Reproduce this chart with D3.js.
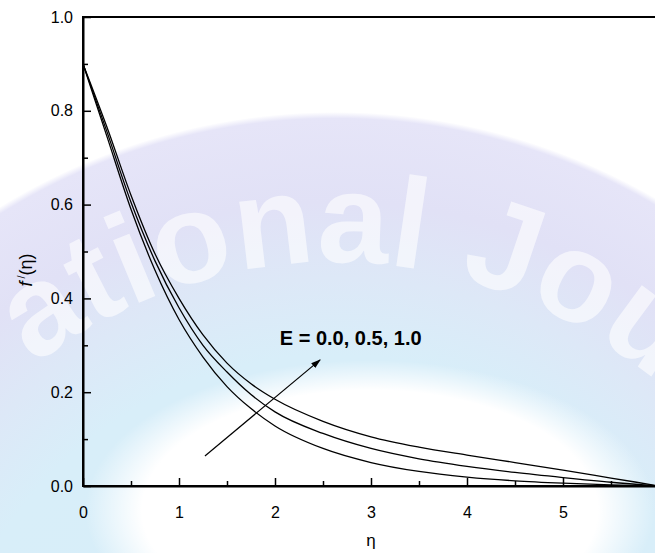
<!DOCTYPE html>
<html>
<head>
<meta charset="utf-8">
<script src="https://cdn.jsdelivr.net/npm/d3@7"></script>
<style>
  body { margin: 0; background: #fff; }
  svg { display: block; font-family: 'Liberation Sans', Arial, sans-serif; }
  .axis path, .axis line { stroke: #000; }
  .axis text { font-family: 'Liberation Sans', Arial, sans-serif; font-size: 16px; fill: #000; }
</style>
</head>
<body>
<div id="chart"></div>
<script>
// Values
const etaValues = [0, 0.25, 0.5, 0.75, 1.0, 1.25, 1.5, 1.75, 2.0, 2.5, 3.0, 3.5, 4.0, 4.5, 5.0, 5.5, 6.0];
const fE00 = [0.90, 0.745, 0.59, 0.46, 0.355, 0.275, 0.212, 0.165, 0.128, 0.080, 0.050, 0.031, 0.019, 0.011, 0.006, 0.0025, 0.0];
const fE05 = [0.90, 0.755, 0.605, 0.48, 0.380, 0.300, 0.243, 0.195, 0.158, 0.112, 0.080, 0.058, 0.042, 0.029, 0.018, 0.008, 0.0];
const fE10 = [0.90, 0.765, 0.62, 0.495, 0.400, 0.322, 0.262, 0.218, 0.185, 0.138, 0.105, 0.083, 0.066, 0.050, 0.034, 0.017, 0.0];
const eValues = ['0.0', '0.5', '1.0'];
const xTicks = [0, 1, 2, 3, 4, 5, 6];
const xMinor = [0.5, 1.5, 2.5, 3.5, 4.5, 5.5];
const yTicks = [0, 0.2, 0.4, 0.6, 0.8, 1.0];
const yMinor = [0.1, 0.3, 0.5, 0.7, 0.9];
const arrowFrom = [1.27, 0.064];
const arrowTo = [2.47, 0.269];
const labelAt = [2.05, 0.30];

const W = 655;
const H = 553;
const margin = { top: 17, left: 83 };
const width = 576;
const height = 469;

const svg = d3.select('#chart')
  .append('svg')
  .attr('width', W)
  .attr('height', H);

const defs = svg.append('defs');

// watermark background
const band = defs.append('radialGradient')
  .attr('id', 'band')
  .attr('gradientUnits', 'userSpaceOnUse')
  .attr('cx', 335).attr('cy', 752).attr('r', 640);
[[0, '#d6eef9'], [0.62, '#d8eef9'], [0.74, '#dde8f7'], [0.86, '#e1e1f6'], [0.99, '#e6e5f8'], [1, '#ffffff']]
  .forEach(s => band.append('stop').attr('offset', s[0]).attr('stop-color', s[1]));

const glow = defs.append('radialGradient')
  .attr('id', 'glow');
[[0, 1], [0.8, 1], [1, 0]]
  .forEach(s => glow.append('stop').attr('offset', s[0]).attr('stop-color', '#fff').attr('stop-opacity', s[1]));

svg.append('rect').attr('width', W).attr('height', H).attr('fill', '#fff');
svg.append('circle').attr('cx', 335).attr('cy', 752).attr('r', 640).attr('fill', 'url(#band)');
svg.append('ellipse')
  .attr('cx', 370).attr('cy', 510).attr('rx', 285).attr('ry', 150)
  .attr('fill', 'url(#glow)');

defs.append('path')
  .attr('id', 'arc')
  .attr('d', 'M -155 752 A 490 490 0 0 1 825 752');
svg.append('text')
  .attr('font-size', 128)
  .attr('font-weight', 'bold')
  .attr('fill', '#fff')
  .attr('fill-opacity', 0.6)
  .attr('text-anchor', 'middle')
  .append('textPath')
  .attr('href', '#arc')
  .attr('startOffset', '52.5%')
  .text('ational Jour');

const g = svg.append('g')
  .attr('transform', `translate(${margin.left}, ${margin.top})`);

const x = d3.scaleLinear().domain([0, 6]).range([0, width]);
const y = d3.scaleLinear().domain([0, 1]).range([height, 0]);

// frame
g.append('rect')
  .attr('width', width)
  .attr('height', height)
  .attr('fill', 'none')
  .attr('stroke', '#000')
  .attr('stroke-width', 2);

// minor ticks
g.append('g')
  .attr('class', 'axis')
  .attr('transform', `translate(0, ${height})`)
  .call(d3.axisBottom(x).tickValues(xMinor).tickSize(-5).tickSizeOuter(0).tickFormat(''))
  .call(a => a.select('.domain').remove())
  .selectAll('line').attr('stroke-width', 1.5);

g.append('g')
  .attr('class', 'axis')
  .call(d3.axisLeft(y).tickValues(yMinor).tickSize(-5).tickSizeOuter(0).tickFormat(''))
  .call(a => a.select('.domain').remove())
  .selectAll('line').attr('stroke-width', 1.5);

// major ticks and labels
g.append('g')
  .attr('class', 'axis')
  .attr('transform', `translate(0, ${height})`)
  .call(d3.axisBottom(x).tickValues(xTicks).tickSize(-8).tickSizeOuter(0).tickPadding(21).tickFormat(d3.format('d')))
  .call(a => a.select('.domain').attr('stroke-width', 2))
  .selectAll('line').attr('stroke-width', 1.5);

g.append('g')
  .attr('class', 'axis')
  .call(d3.axisLeft(y).tickValues(yTicks).tickSize(-8).tickSizeOuter(0).tickPadding(10).tickFormat(d3.format('.1f')))
  .call(a => a.select('.domain').attr('stroke-width', 2))
  .selectAll('line').attr('stroke-width', 1.5);

// curves
const line = d3.line()
  .x(d => x(d[0]))
  .y(d => y(d[1]))
  .curve(d3.curveMonotoneX);

[fE00, fE05, fE10].forEach((s) => {
  g.append('path')
    .datum(etaValues.map((e, i) => [e, s[i]]))
    .attr('fill', 'none')
    .attr('stroke', '#000')
    .attr('stroke-width', 1.3)
    .attr('d', line);
});

// arrow + annotation
defs.append('marker')
  .attr('id', 'head')
  .attr('viewBox', '0 0 10 10')
  .attr('refX', 9).attr('refY', 5)
  .attr('markerWidth', 10).attr('markerHeight', 10)
  .attr('markerUnits', 'userSpaceOnUse')
  .attr('orient', 'auto')
  .append('path')
  .attr('d', 'M0,1.8 L10,5 L0,8.2 Z')
  .attr('fill', '#000');

g.append('line')
  .attr('x1', x(arrowFrom[0])).attr('y1', y(arrowFrom[1]))
  .attr('x2', x(arrowTo[0])).attr('y2', y(arrowTo[1]))
  .attr('stroke', '#000')
  .attr('stroke-width', 1.2)
  .attr('marker-end', 'url(#head)');

g.append('text')
  .attr('x', x(labelAt[0]))
  .attr('y', y(labelAt[1]))
  .attr('font-size', 20)
  .attr('font-weight', 'bold')
  .text(`E = ${eValues.join(', ')}`);

// axis titles
svg.append('text')
  .attr('x', margin.left + x(3))
  .attr('y', 546)
  .attr('text-anchor', 'middle')
  .attr('font-size', 17)
  .text('η');

const yTitle = svg.append('text')
  .attr('transform', 'translate(32, 270) rotate(-90)')
  .attr('text-anchor', 'middle')
  .attr('font-size', 18);
yTitle.append('tspan').attr('font-style', 'italic').text('f');
yTitle.append('tspan').attr('font-size', 11).attr('dy', -7).text(' /');
yTitle.append('tspan').attr('dy', 7).text('(η)');
</script>
</body>
</html>
